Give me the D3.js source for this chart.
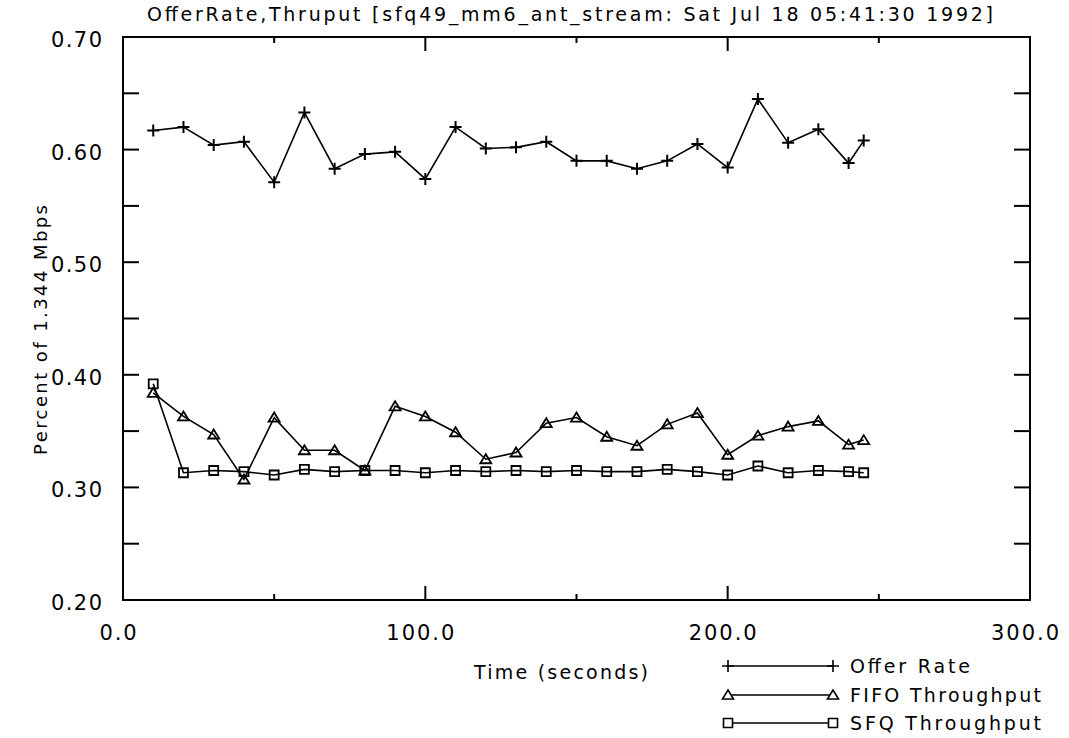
<!DOCTYPE html>
<html>
<head>
<meta charset="utf-8">
<script src="https://cdn.jsdelivr.net/npm/d3@7"></script>
<style>
    body { margin: 0; background: #fff; }
    text { font-family: "DejaVu Sans", sans-serif; fill: #000; }
</style>
</head>
<body>
<script>

// time of every sample (seconds)
var times = [10, 20, 30, 40, 50, 60, 70, 80, 90, 100, 110, 120, 130, 140,
             150, 160, 170, 180, 190, 200, 210, 220, 230, 240, 245];

// offered load, fraction of 1.344 Mbps
var offerRate = [0.617, 0.620, 0.604, 0.607, 0.571, 0.633, 0.583, 0.596, 0.598,
                 0.574, 0.620, 0.601, 0.602, 0.607, 0.590, 0.590, 0.583, 0.590,
                 0.605, 0.584, 0.645, 0.606, 0.618, 0.588, 0.608];

// FIFO throughput
var fifoThroughput = [0.384, 0.363, 0.347, 0.307, 0.362, 0.333, 0.333, 0.315, 0.372,
                      0.363, 0.349, 0.325, 0.331, 0.357, 0.362, 0.345, 0.337, 0.356,
                      0.366, 0.329, 0.346, 0.354, 0.359, 0.338, 0.342];

// SFQ throughput
var sfqThroughput = [0.392, 0.313, 0.315, 0.314, 0.311, 0.316, 0.314, 0.315, 0.315,
                     0.313, 0.315, 0.314, 0.315, 0.314, 0.315, 0.314, 0.314, 0.316,
                     0.314, 0.311, 0.319, 0.313, 0.315, 0.314, 0.313];

var seriesNames = ["Offer Rate", "FIFO Throughput", "SFQ Throughput"];
var xTickValues = [0, 100, 200, 300],
    xMinorTicks = [50, 150, 250],
    yTickValues = [0.20, 0.30, 0.40, 0.50, 0.60, 0.70],
    yMinorTicks = [0.25, 0.35, 0.45, 0.55, 0.65];

var titleGraph = "OfferRate,Thruput [sfq49_mm6_ant_stream: Sat Jul 18 05:41:30 1992]",
    xLabel = "Time (seconds)",
    yLabel = "Percent of 1.344 Mbps";

// marker shapes, drawn as outlines
var markers = {
    "Offer Rate": "M-6,0H6M0,-6V6",
    "FIFO Throughput": "M0,-5L5.5,4H-5.5Z",
    "SFQ Throughput": "M-4.5,-4.5H4.5V4.5H-4.5Z"
};

var margin = {top: 37, right: 39, bottom: 138, left: 123},
    width = 1069 - margin.left - margin.right,
    height = 738 - margin.top - margin.bottom;

var svg = d3.select("body").append("svg")
        .attr("width", 1069)
        .attr("height", 738)
    .append("g")
        .attr("transform", "translate(" + margin.left + "," + margin.top + ")");

var scaleX = d3.scaleLinear()
    .domain([0, 300])
    .range([0, width]);

var scaleY = d3.scaleLinear()
    .domain([0.20, 0.70])
    .range([height, 0]);

// frame round the plot
svg.append("rect")
    .attr("width", width)
    .attr("height", height)
    .attr("fill", "none")
    .attr("stroke", "#000")
    .attr("stroke-width", 2);

// inward ticks on all four sides
function ticks(values, len, horizontal)
{
    values.forEach(function(v) {
        if (horizontal)
        {
            let x = scaleX(v);
            svg.append("line").attr("x1", x).attr("x2", x)
                .attr("y1", height).attr("y2", height - len);
            svg.append("line").attr("x1", x).attr("x2", x)
                .attr("y1", 0).attr("y2", len);
        }
        else
        {
            let y = scaleY(v);
            svg.append("line").attr("y1", y).attr("y2", y)
                .attr("x1", 0).attr("x2", len);
            svg.append("line").attr("y1", y).attr("y2", y)
                .attr("x1", width).attr("x2", width - len);
        }
    });
}
ticks(xTickValues.slice(1, 3), 14, true);
ticks(xMinorTicks, 6, true);
ticks(yTickValues.slice(1, 5), 16, false);
ticks(yMinorTicks, 16, false);
svg.selectAll("line").attr("stroke", "#000").attr("stroke-width", 2);

// tick labels
svg.selectAll(".xlab")
    .data(xTickValues)
  .enter().append("text")
    .attr("x", function(d) { return scaleX(d) - 5; })
    .attr("y", height + 40)
    .style("text-anchor", "middle")
    .style("font-size", "21px")
    .attr("textLength", function(d) { return d == 0 ? 37 : 68; })
    .text(function(d) { return d.toFixed(1); });

svg.selectAll(".ylab")
    .data(yTickValues)
  .enter().append("text")
    .attr("x", -21)
    .attr("y", function(d) { return scaleY(d) + 10; })
    .style("text-anchor", "end")
    .style("font-size", "21px")
    .attr("textLength", 51)
    .text(function(d) { return d.toFixed(2); });

// title and axis labels
svg.append("text")
    .attr("x", 447)
    .attr("y", -16)
    .style("text-anchor", "middle")
    .style("font-size", "19px")
    .attr("textLength", 846)
    .text(titleGraph);

svg.append("text")
    .attr("x", 438)
    .attr("y", height + 79)
    .style("text-anchor", "middle")
    .style("font-size", "19px")
    .attr("textLength", 174)
    .text(xLabel);

svg.append("text")
    .attr("transform", "rotate(-90)")
    .attr("x", -(330 - margin.top))
    .attr("y", 47 - margin.left)
    .style("text-anchor", "middle")
    .style("font-size", "18px")
    .attr("textLength", 250)
    .text(yLabel);

// the three series
var series = [offerRate, fifoThroughput, sfqThroughput];
var line = d3.line()
    .x(function(d) { return scaleX(d[0]); })
    .y(function(d) { return scaleY(d[1]); });

series.forEach(function(values, k) {
    let points = times.map(function(t, i) { return [t, values[i]]; });

    svg.append("path")
        .datum(points)
        .attr("d", line)
        .attr("fill", "none")
        .attr("stroke", "#000")
        .attr("stroke-width", 1.6);

    svg.selectAll(".m" + k)
        .data(points)
      .enter().append("path")
        .attr("transform", function(d) {
            return "translate(" + scaleX(d[0]) + "," + scaleY(d[1]) + ")"; })
        .attr("d", markers[seriesNames[k]])
        .attr("fill", "none")
        .attr("stroke", "#000")
        .attr("stroke-width", k == 0 ? 2 : 1.8);
});

// legend below the plot
var legendY = [666, 695, 723];
seriesNames.forEach(function(name, i) {
    let y = legendY[i] - margin.top;
    svg.append("line")
        .attr("x1", 728 - margin.left).attr("x2", 833 - margin.left)
        .attr("y1", y).attr("y2", y)
        .attr("stroke", "#000")
        .attr("stroke-width", 1.6);
    [728, 833].forEach(function(x) {
        svg.append("path")
            .attr("transform", "translate(" + (x - margin.left) + "," + y + ")")
            .attr("d", markers[name])
            .attr("fill", "#fff")
            .attr("stroke", "#000")
            .attr("stroke-width", 1.6);
    });
    svg.append("text")
        .attr("x", 850 - margin.left)
        .attr("y", y + 7)
        .style("font-size", "19px")
        .attr("textLength", i == 0 ? 120 : 191)
        .text(name);
});

</script>
</body>
</html>
